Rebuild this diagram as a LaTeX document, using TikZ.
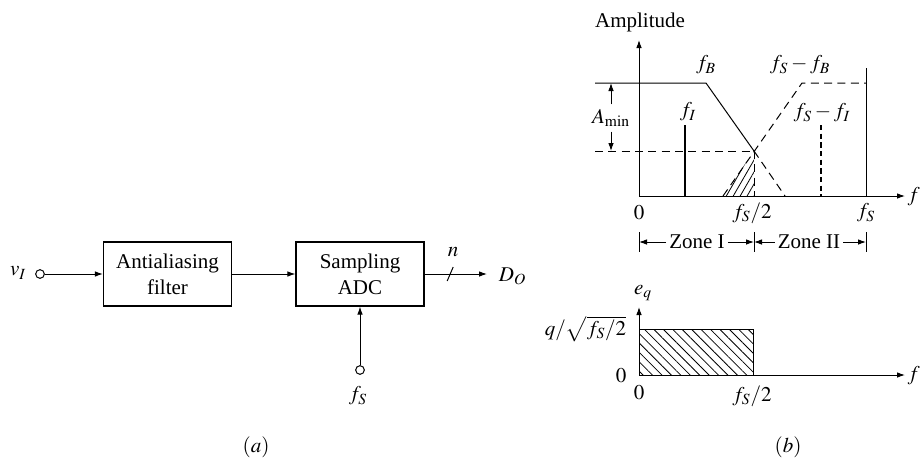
\documentclass[tikz,border=0pt]{standalone}
\usepackage{mathptmx}
\usepackage{fontspec}
\setmainfont{Liberation Serif}
\usetikzlibrary{arrows.meta, positioning, calc, patterns.meta}

\begin{document}
\begin{tikzpicture}[
    x=0.75pt, y=-0.75pt,
    line width=0.75pt,
    >={Latex[length=6pt, width=4.2pt]},
    every node/.style={font=\fontsize{15.75}{19.5}\selectfont},
    blockbox/.style={draw, line width=0.9pt, minimum width=96pt, minimum height=48pt, align=center, inner sep=2pt},
    terminal/.style={draw, circle, inner sep=0pt, minimum size=6.5pt},
    dashline/.style={dash pattern=on 6pt off 4pt},
    zonelbl/.style={inner sep=2pt},
]
    \useasboundingbox (0,0) rectangle (921,458);

    % (a) block diagram
    \node (vi) at (18,273) {$v_I$};
    \node[terminal] (vin) at (40,274) {};
    \node[blockbox] (aaf) at (167.5,274) {Antialiasing\\filter};
    \node[blockbox] (adc) at (360,274) {Sampling\\ADC};
    \coordinate (dout) at (487,274);
    \node[anchor=west] (do) at (494,276) {$D_O$};
    \node (nbits) at (453,252) {$n$};
    \node[terminal] (fsin) at (360,370) {};
    \node (fs) at (358,396) {$f_S$};
    \node (capa) at (256,447) {$(a)$};

    \draw[->] (vin) -- (aaf);
    \draw[->] (aaf) -- (adc);
    \draw[->] (adc) -- (dout);
    \draw ($(adc.east)!.41!(dout)$) ++(-3,7) -- ++(6,-14);
    \draw[->] (fsin) -- (adc);

    % (b) upper: amplitude spectrum
    \coordinate (o1) at (639,196);
    \draw[->] (o1) -- (639,40);
    \draw[->] (o1) -- (905,196);
    \node (amp) at (640,22) {Amplitude};
    \node[anchor=west, inner sep=1pt] (f1) at (906,197) {$f$};

    \fill[pattern={Lines[angle=60, distance=4.5pt, line width=0.6pt]}]
        (723,196) -- (754,151) -- (754,196) -- cycle;
    \draw (595,83) -- (706,83) -- (754,151);
    \draw[dashline] (754,151) -- (785,196);
    \draw[dashline] (595,151) -- (754,151);
    \draw[dashline] (754,151) -- (754,196);
    \draw[dashline] (723,196) -- (802,83) -- (866,83);
    \draw (866,68) -- (866,196);
    \draw[line width=2pt] (685,125) -- (685,196);
    \draw[line width=2pt, dash pattern=on 4pt off 2.5pt] (821,125) -- (821,196);

    \node (amin) at (611,118) {$A_{\min}$};
    \draw[->] (amin.north) -- (611,83);
    \draw[->] (amin.south) -- (611,151);

    \node (fb) at (706,65) {$f_B$};
    \node (fsfb) at (800,65) {$f_S - f_B$};
    \node (fi) at (688,112) {$f_I$};
    \node (fsfi) at (822,113) {$f_S - f_I$};

    \node (t0) at (639,213) {$0$};
    \node (tfs2) at (752,213) {$f_S/2$};
    \node (tfs) at (866,213) {$f_S$};

    % zones
    \coordinate (zt0) at (639,242);
    \coordinate (zt1) at (754,242);
    \coordinate (zt2) at (866,242);
    \draw (639,232) -- (639,252);
    \draw (754,232) -- (754,252);
    \draw (866,232) -- (866,252);
    \node[zonelbl] (zone1) at (697,242) {Zone I};
    \node[zonelbl] (zone2) at (809,242) {Zone II};
    \draw[->] (zone1.west) -- (zt0);
    \draw[->] (zone1.east) -- (zt1);
    \draw[->] (zone2.west) -- (zt1);
    \draw[->] (zone2.east) -- (zt2);

    % (b) lower: quantization noise
    \coordinate (o2) at (639,375);
    \fill[pattern={Lines[angle=-45, distance=5pt, line width=0.6pt]}]
        (639,329) rectangle (753,375);
    \draw (639,329) rectangle (753,375);
    \draw[->] (o2) -- (639,307);
    \draw[->] (o2) -- (905,375);
    \node (eq) at (643,293) {$e_q$};
    \node[anchor=east] (qlev) at (631,329) {$q/\sqrt{f_S/2}$};
    \node (l0) at (621,376) {$0$};
    \node (b0) at (639,393) {$0$};
    \node (bfs2) at (752,396) {$f_S/2$};
    \node[anchor=west, inner sep=1pt] (f2) at (906,376) {$f$};
    \node (capb) at (788,447) {$(b)$};
\end{tikzpicture}
\end{document}
